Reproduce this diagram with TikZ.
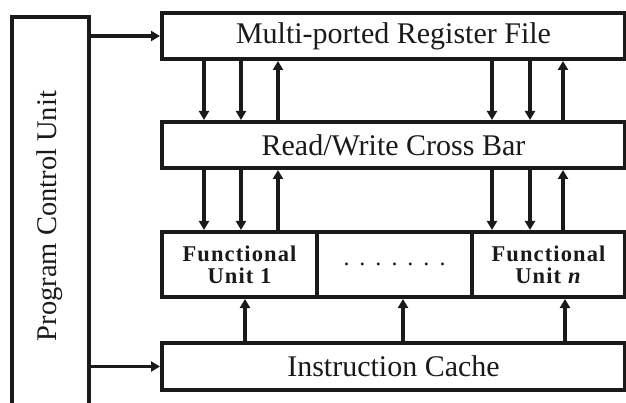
\documentclass[tikz,border=0pt]{standalone}
\usepackage{fontspec}
\setmainfont{Liberation Serif}
\newfontfamily\fuface[LetterSpace=5]{Liberation Serif}
\usetikzlibrary{arrows.meta}
\definecolor{ink}{HTML}{1A1A1A}
\tikzset{
  blk/.style={draw=ink, line width=4pt, rectangle, inner sep=0pt, text=ink,
    font=\fontsize{30}{34}\selectfont},
  fu/.style={blk, font=\fuface\bfseries\fontsize{22.5}{22}\selectfont, align=center},
  arr/.style={draw=ink, line width=3.2pt, -{Triangle[length=9pt,width=10pt]}},
}
\begin{document}
\begin{tikzpicture}[x=1pt,y=-1pt]
\useasboundingbox (0,0) rectangle (626,403);
\fill[white] (0,0) rectangle (626,403);
\clip (0,0) rectangle (626,403);

% control unit column, running off the lower edge
\node[blk, minimum width=77pt, minimum height=420pt, anchor=north west] (pcu) at (10,15) {};
\node[rotate=90, text=ink, font=\fontsize{28.5}{32}\selectfont] (pcul) at (50,216) {Program Control Unit};

% stacked blocks
\node[blk, minimum width=463pt, minimum height=46pt] (rf) at (393.5,36) {Multi-ported Register File};
\node[blk, minimum width=463pt, minimum height=46pt] (cb) at (393.5,145) {Read/Write Cross Bar};
\node[fu, minimum width=155pt, minimum height=65pt] (fu1) at (239.5,264.5) {Functional\\Unit 1};
\node[blk, minimum width=155pt, minimum height=65pt] (dots) at (394.5,264.5) {};
\node[text=ink, font=\fontsize{24}{24}\selectfont] (dl) at (dots.center) {.\hspace{10pt}.\hspace{10pt}.\hspace{10pt}.\hspace{10pt}.\hspace{10pt}.\hspace{10pt}.};
\node[fu, minimum width=153pt, minimum height=65pt] (fun) at (548.5,264.5) {Functional\\Unit \textit{n}};
\node[blk, minimum width=463pt, minimum height=47pt] (ic) at (393.5,366.5) {Instruction Cache};

% port columns
\foreach \n/\x in {a/204,b/241,c/278,d/492,e/530,f/563,g/245,h/403,i/565}
  \coordinate (\n) at (\x,0);

% control lines
\draw[arr] (pcu.east |- rf.west) -- (rf.west);
\draw[arr] (pcu.east |- ic.west) -- (ic.west);

% register file <-> cross bar
\draw[arr] (rf.south -| a) -- (cb.north -| a);
\draw[arr] (rf.south -| b) -- (cb.north -| b);
\draw[arr] (cb.north -| c) -- (rf.south -| c);
\draw[arr] (rf.south -| d) -- (cb.north -| d);
\draw[arr] (rf.south -| e) -- (cb.north -| e);
\draw[arr] (cb.north -| f) -- (rf.south -| f);

% cross bar <-> functional units
\draw[arr] (cb.south -| a) -- (fu1.north -| a);
\draw[arr] (cb.south -| b) -- (fu1.north -| b);
\draw[arr] (fu1.north -| c) -- (cb.south -| c);
\draw[arr] (cb.south -| d) -- (fun.north -| d);
\draw[arr] (cb.south -| e) -- (fun.north -| e);
\draw[arr] (fun.north -| f) -- (cb.south -| f);

% instruction cache -> units
\draw[arr] (ic.north -| g) -- (fu1.south -| g);
\draw[arr] (ic.north -| h) -- (dots.south -| h);
\draw[arr] (ic.north -| i) -- (fun.south -| i);
\end{tikzpicture}
\end{document}
